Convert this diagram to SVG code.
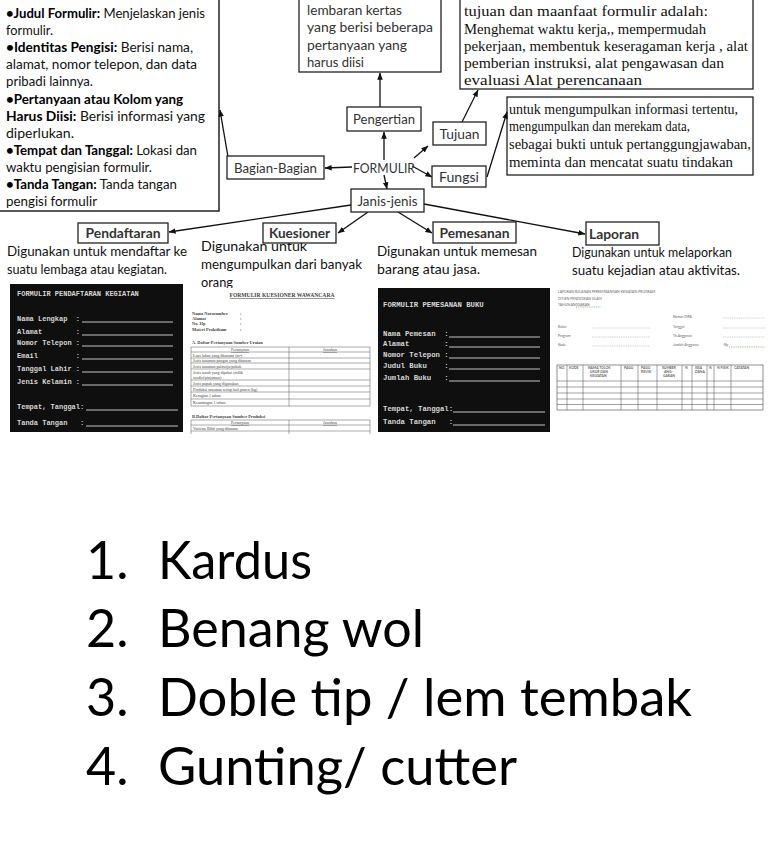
<svg xmlns="http://www.w3.org/2000/svg" width="768" height="866" viewBox="0 0 768 866">
<style>
.box{fill:#fff;stroke:#222;stroke-width:1.3}
.sans{font-family:Lato,'Open Sans',sans-serif}
.lbl{font-family:Lato,'Open Sans',sans-serif;font-size:13.5px;fill:#333}
.blk{font-family:Lato,'Open Sans',sans-serif;font-size:13.5px;fill:#111}
.b{font-weight:bold;fill:#000}
.ser{font-family:'Liberation Serif',serif;font-size:14px;fill:#111}
.c{stroke:#111;stroke-width:1.3;fill:none;marker-end:url(#ah)}
.mono{font-family:'Liberation Mono',monospace;font-weight:bold;fill:#d6d6d6;white-space:pre}
.ul{stroke:#d8d8d8;stroke-width:0.9}
.ks{font-family:'Liberation Serif',serif;fill:#444}
.tl{stroke:#555;stroke-width:0.5;fill:none}
.lp{font-family:Lato,'Open Sans',sans-serif;font-size:3.4px;fill:#666}
.dot{stroke:#999;stroke-width:0.5;stroke-dasharray:1,0.8}
.gdot{stroke:#3a9a3a;stroke-width:0.6;stroke-dasharray:1,0.8}
.list{font-family:Lato,'Open Sans',sans-serif;font-size:52px;fill:#000}
</style>
<defs>
<marker id="ah" viewBox="0 0 10 10" refX="9.5" refY="5" markerWidth="7" markerHeight="7" markerUnits="userSpaceOnUse" orient="auto">
<path d="M0,1 L10,5 L0,9 z" fill="#111"/>
</marker>
<clipPath id="kq"><rect x="190" y="288" width="188" height="146"/></clipPath>
</defs>
<rect width="768" height="866" fill="#fff"/>

<g id="bagian-text">
<rect x="-1" y="-2" width="220" height="213" fill="#fff" stroke="#222" stroke-width="1.5"/>
<text class="blk" x="6" y="18" textLength="199" lengthAdjust="spacingAndGlyphs"><tspan class="b">•Judul Formulir:</tspan> Menjelaskan jenis</text>
<text class="blk" x="6" y="35" textLength="47" lengthAdjust="spacingAndGlyphs">formulir.</text>
<text class="blk" x="6" y="52" textLength="187" lengthAdjust="spacingAndGlyphs"><tspan class="b">•Identitas Pengisi:</tspan> Berisi nama,</text>
<text class="blk" x="6" y="69" textLength="191" lengthAdjust="spacingAndGlyphs">alamat, nomor telepon, dan data</text>
<text class="blk" x="6" y="86" textLength="87" lengthAdjust="spacingAndGlyphs">pribadi lainnya.</text>
<text class="blk" x="6" y="104" textLength="177" lengthAdjust="spacingAndGlyphs"><tspan class="b">•Pertanyaan atau Kolom yang</tspan></text>
<text class="blk" x="6" y="121" textLength="199" lengthAdjust="spacingAndGlyphs"><tspan class="b">Harus Diisi:</tspan> Berisi informasi yang</text>
<text class="blk" x="6" y="138" textLength="68" lengthAdjust="spacingAndGlyphs">diperlukan.</text>
<text class="blk" x="6" y="155" textLength="191" lengthAdjust="spacingAndGlyphs"><tspan class="b">•Tempat dan Tanggal:</tspan> Lokasi dan</text>
<text class="blk" x="6" y="172" textLength="146" lengthAdjust="spacingAndGlyphs">waktu pengisian formulir.</text>
<text class="blk" x="6" y="189" textLength="171" lengthAdjust="spacingAndGlyphs"><tspan class="b">•Tanda Tangan:</tspan> Tanda tangan</text>
<text class="blk" x="6" y="206" textLength="91" lengthAdjust="spacingAndGlyphs">pengisi formulir</text>
</g>

<g id="pengertian-text">
<rect class="box" x="299" y="-2" width="142" height="74"/>
<text class="lbl" x="307" y="15" textLength="95" lengthAdjust="spacingAndGlyphs">lembaran kertas</text>
<text class="lbl" x="307" y="32" textLength="126" lengthAdjust="spacingAndGlyphs">yang berisi beberapa</text>
<text class="lbl" x="307" y="50" textLength="100" lengthAdjust="spacingAndGlyphs">pertanyaan yang</text>
<text class="lbl" x="307" y="67" textLength="57" lengthAdjust="spacingAndGlyphs">harus diisi</text>
</g>

<g id="tujuan-text">
<rect class="box" x="460" y="-2" width="293" height="91"/>
<text class="ser" x="464" y="16" textLength="244" lengthAdjust="spacingAndGlyphs">tujuan dan maanfaat formulir adalah:</text>
<text class="ser" x="464" y="34" textLength="242" lengthAdjust="spacingAndGlyphs">Menghemat waktu kerja,, mempermudah</text>
<text class="ser" x="464" y="51" textLength="284" lengthAdjust="spacingAndGlyphs">pekerjaan, membentuk keseragaman kerja , alat</text>
<text class="ser" x="464" y="68" textLength="260" lengthAdjust="spacingAndGlyphs">pemberian instruksi, alat pengawasan dan</text>
<text class="ser" x="464" y="85" textLength="178" lengthAdjust="spacingAndGlyphs">evaluasi Alat perencanaan</text>
</g>

<g id="fungsi-text">
<rect class="box" x="507" y="97" width="246" height="78"/>
<text class="ser" x="509" y="114" textLength="229" lengthAdjust="spacingAndGlyphs">untuk mengumpulkan informasi tertentu,</text>
<text class="ser" x="509" y="131" textLength="181" lengthAdjust="spacingAndGlyphs">mengumpulkan dan merekam data,</text>
<text class="ser" x="509" y="149" textLength="242" lengthAdjust="spacingAndGlyphs">sebagai bukti untuk pertanggungjawaban,</text>
<text class="ser" x="509" y="167" textLength="224" lengthAdjust="spacingAndGlyphs">meminta dan mencatat suatu tindakan</text>
</g>

<g id="connectors">
<line class="c" x1="384" y1="160" x2="384" y2="132"/>
<line class="c" x1="380" y1="107" x2="380" y2="73"/>
<line class="c" x1="352" y1="167" x2="325" y2="168"/>
<line class="c" x1="228" y1="157" x2="220" y2="110"/>
<line class="c" x1="414" y1="158" x2="428" y2="146"/>
<line class="c" x1="462" y1="122" x2="478" y2="90"/>
<line class="c" x1="412" y1="166" x2="432" y2="177"/>
<line class="c" x1="487" y1="177" x2="507" y2="112"/>
<line class="c" x1="384" y1="175" x2="387" y2="189"/>
<line class="c" x1="351" y1="205" x2="169" y2="232"/>
<line class="c" x1="368" y1="212" x2="338" y2="233"/>
<line class="c" x1="398" y1="212" x2="432" y2="233"/>
<line class="c" x1="424" y1="204" x2="585" y2="234"/>
</g>

<g id="formulir">
<text class="lbl" x="384" y="173" text-anchor="middle" textLength="62" lengthAdjust="spacingAndGlyphs">FORMULIR</text>
</g>
<g id="pengertian">
<rect class="box" x="347" y="107" width="74" height="24"/>
<text class="lbl" x="384" y="124" text-anchor="middle" textLength="62" lengthAdjust="spacingAndGlyphs">Pengertian</text>
</g>
<g id="tujuan">
<rect class="box" x="433" y="122" width="53" height="23"/>
<text class="lbl" x="459.5" y="139" text-anchor="middle" textLength="40" lengthAdjust="spacingAndGlyphs">Tujuan</text>
</g>
<g id="fungsi">
<rect class="box" x="432" y="166" width="54" height="21"/>
<text class="lbl" x="459" y="182" text-anchor="middle" textLength="40" lengthAdjust="spacingAndGlyphs">Fungsi</text>
</g>
<g id="bagian-bagian">
<rect class="box" x="227" y="156" width="97" height="23"/>
<text class="lbl" x="275.5" y="173" text-anchor="middle" textLength="83" lengthAdjust="spacingAndGlyphs">Bagian-Bagian</text>
</g>
<g id="janis-jenis">
<rect class="box" x="351" y="189" width="73" height="23"/>
<text class="lbl" x="387.5" y="206" text-anchor="middle" textLength="60" lengthAdjust="spacingAndGlyphs">Janis-jenis</text>
</g>

<g id="desc-texts">
<text class="blk" x="7" y="256" textLength="180" lengthAdjust="spacingAndGlyphs">Digunakan untuk mendaftar ke</text>
<text class="blk" x="7" y="274" textLength="160" lengthAdjust="spacingAndGlyphs">suatu lembaga atau kegiatan.</text>
<text class="blk" x="201" y="251" textLength="106" lengthAdjust="spacingAndGlyphs">Digunakan untuk</text>
<text class="blk" x="201" y="269" textLength="161" lengthAdjust="spacingAndGlyphs">mengumpulkan dari banyak</text>
<text class="blk" x="201" y="287" textLength="32" lengthAdjust="spacingAndGlyphs">orang</text>
<text class="blk" x="377" y="256" textLength="160" lengthAdjust="spacingAndGlyphs">Digunakan untuk memesan</text>
<text class="blk" x="377" y="274" textLength="103" lengthAdjust="spacingAndGlyphs">barang atau jasa.</text>
<text class="blk" x="572" y="257" textLength="160" lengthAdjust="spacingAndGlyphs">Digunakan untuk melaporkan</text>
<text class="blk" x="572" y="275" textLength="168" lengthAdjust="spacingAndGlyphs">suatu kejadian atau aktivitas.</text>
</g>

<g id="pendaftaran">
<rect class="box" x="78" y="223" width="90" height="20"/>
<text class="lbl" x="123" y="238" text-anchor="middle" font-weight="bold" fill="#444" textLength="75" lengthAdjust="spacingAndGlyphs">Pendaftaran</text>
</g>
<g id="kuesioner">
<rect class="box" x="263" y="223" width="73" height="20"/>
<text class="lbl" x="299.5" y="238" text-anchor="middle" font-weight="bold" fill="#444" textLength="61" lengthAdjust="spacingAndGlyphs">Kuesioner</text>
</g>
<g id="pemesanan">
<rect class="box" x="433" y="222" width="83" height="21"/>
<text class="lbl" x="474.5" y="238" text-anchor="middle" font-weight="bold" fill="#444" textLength="70" lengthAdjust="spacingAndGlyphs">Pemesanan</text>
</g>
<g id="laporan">
<rect class="box" x="586" y="222" width="73" height="23"/>
<text class="lbl" x="589" y="239" font-weight="bold" fill="#000" textLength="50" lengthAdjust="spacingAndGlyphs">Laporan</text>
</g>

<g id="form-pendaftaran">
<rect x="10" y="284" width="173" height="148" fill="#0f0f0f"/>
<g class="mono" font-size="7">
<text x="17" y="296" xml:space="preserve">FORMULIR PENDAFTARAN KEGIATAN</text>
<text x="17" y="321" xml:space="preserve">Nama Lengkap  :</text>
<text x="17" y="334" xml:space="preserve">Alamat        :</text>
<text x="17" y="345" xml:space="preserve">Nomor Telepon :</text>
<text x="17" y="358" xml:space="preserve">Email         :</text>
<text x="17" y="371" xml:space="preserve">Tanggal Lahir :</text>
<text x="17" y="384" xml:space="preserve">Jenis Kelamin :</text>
<text x="17" y="409" xml:space="preserve">Tempat, Tanggal:</text>
<text x="17" y="425" xml:space="preserve">Tanda Tangan   :</text>
</g>
<g class="ul">
<line x1="82" y1="322" x2="173" y2="322"/>
<line x1="82" y1="335" x2="173" y2="335"/>
<line x1="82" y1="346" x2="173" y2="346"/>
<line x1="82" y1="359" x2="173" y2="359"/>
<line x1="82" y1="372" x2="173" y2="372"/>
<line x1="82" y1="385" x2="173" y2="385"/>
<line x1="86" y1="410" x2="178" y2="410"/>
<line x1="86" y1="426" x2="178" y2="426"/>
</g>
</g>

<g id="form-kuesioner" clip-path="url(#kq)">
<rect x="190" y="288" width="188" height="146" fill="#fff"/>
<text class="ks" x="282" y="297" font-size="5.6" font-weight="bold" text-anchor="middle" text-decoration="underline">FORMULIR KUESIONER WAWANCARA</text>
<g class="ks" font-size="4.4" font-weight="bold">
<text x="192" y="315">Nama Narasumber</text><text x="240" y="315">:</text>
<text x="192" y="320">Alamat</text><text x="240" y="320">:</text>
<text x="192" y="325">No. Hp</text><text x="240" y="325">:</text>
<text x="192" y="330.5">Materi Praktikum</text><text x="240" y="330.5">:</text>
<text x="192" y="344">A.  Daftar Pertanyaan Sumber Uraian</text>
<text x="192" y="418">B.Daftar Pertanyaan Sumber Produksi</text>
</g>
<rect class="tl" x="191" y="347" width="179" height="59"/>
<path class="tl" d="M289,347 V406 M191,352 H370 M191,358 H370 M191,363 H370 M191,369 H370 M191,380 H370 M191,386 H370 M191,392 H370 M191,399 H370"/>
<g class="ks" font-size="4">
<text x="240" y="351" text-anchor="middle" text-decoration="underline">Pertanyaan</text>
<text x="330" y="351" text-anchor="middle" text-decoration="underline">Jawaban</text>
<text x="193" y="356.5">Luas lahan yang ditanami (m²)</text>
<text x="193" y="362">Jenis tanaman pangan yang ditanam</text>
<text x="193" y="367.5">Jenis tanaman palawija/pokok</text>
<text x="193" y="373.5">Jenis tanah yang dipakai (milik</text>
<text x="193" y="378.5">sendiri/pinjaman)</text>
<text x="193" y="384.5">Jenis pupuk yang digunakan</text>
<text x="193" y="390.5">Produksi tanaman setiap kali panen (kg)</text>
<text x="193" y="397">Kerugian 1 tahun</text>
<text x="293" y="397">.</text>
<text x="193" y="404">Keuntungan 1 tahun</text>
</g>
<rect class="tl" x="191" y="420" width="179" height="20"/>
<path class="tl" d="M289,420 V440 M191,425 H370 M191,431 H370"/>
<g class="ks" font-size="4">
<text x="240" y="424" text-anchor="middle" text-decoration="underline">Pertanyaan</text>
<text x="330" y="424" text-anchor="middle" text-decoration="underline">Jawaban</text>
<text x="193" y="430">Varietas Bibit yang ditanam</text>
</g>
</g>

<g id="form-pemesanan">
<rect x="378" y="288" width="172" height="144" fill="#0f0f0f"/>
<g class="mono" font-size="7.3">
<text x="383" y="307" xml:space="preserve">FORMULIR PEMESANAN BUKU</text>
<text x="383" y="335.5" xml:space="preserve">Nama Pemesan  :</text>
<text x="383" y="345.5" xml:space="preserve">Alamat        :</text>
<text x="383" y="356.5" xml:space="preserve">Nomor Telepon :</text>
<text x="383" y="367.5" xml:space="preserve">Judul Buku    :</text>
<text x="383" y="379.5" xml:space="preserve">Jumlah Buku   :</text>
<text x="383" y="410.5" xml:space="preserve">Tempat, Tanggal:</text>
<text x="383" y="423.5" xml:space="preserve">Tanda Tangan   :</text>
</g>
<g class="ul">
<line x1="449" y1="337" x2="540" y2="337"/>
<line x1="449" y1="347" x2="540" y2="347"/>
<line x1="449" y1="358" x2="540" y2="358"/>
<line x1="449" y1="369" x2="540" y2="369"/>
<line x1="449" y1="381" x2="540" y2="381"/>
<line x1="453" y1="412" x2="545" y2="412"/>
<line x1="453" y1="425" x2="545" y2="425"/>
</g>
</g>

<g id="form-laporan">
<rect x="551" y="285" width="217" height="128" fill="#fff"/>
<text class="lp" x="558" y="293">LAPORAN BULANAN PERKEMBANGAN KEGIATAN/PROGRAM</text>
<text class="lp" x="558" y="299.5">DITJEN PENDIDIKAN ISLAM</text>
<text class="lp" x="558" y="306">TAHUN ANGGARAN</text>
<line class="gdot" x1="576" y1="307" x2="601" y2="307"/>
<text class="lp" x="673" y="318">Nomor DIPA</text>
<text class="lp" x="558" y="328">Bulan</text>
<text class="lp" x="673" y="328">Tanggal</text>
<text class="lp" x="558" y="337">Program</text>
<text class="lp" x="673" y="337">Th.Anggaran</text>
<text class="lp" x="558" y="346">Kode</text>
<text class="lp" x="673" y="346">Jumlah Anggaran</text>
<text class="lp" x="723" y="346">-Rp</text>
<line class="gdot" x1="729" y1="347" x2="765" y2="347"/>
<path class="dot" d="M723,318 H765 M592,328 H650 M723,328 H765 M592,337 H650 M723,337 H765 M592,346 H650"/>
<rect x="557" y="365" width="206" height="45" fill="none" stroke="#444" stroke-width="0.6"/>
<path d="M567,365V410 M583,365V410 M621,365V410 M638,365V410 M657,365V410 M682,365V410 M692,365V410 M707,365V410 M714,365V410 M731,365V410 M557,381H763 M557,387H763 M557,393H763 M557,399H763 M557,404.5H763" stroke="#444" stroke-width="0.5" fill="none"/>
<g class="lp" font-size="3" font-weight="bold" fill="#555">
<text x="559" y="369">NO.</text>
<text x="569" y="369">KODE</text>
<text x="588" y="369">NAMA TOLOK</text><text x="590" y="373">UKUR DAN</text><text x="590" y="377">KEGIATAN</text>
<text x="624" y="369">PAGU</text>
<text x="641" y="369">PAGU</text><text x="641" y="373">REVISI</text>
<text x="662" y="369">SUMBER</text><text x="664" y="373">ANG-</text><text x="663" y="377">GARAN</text>
<text x="685" y="369">%</text>
<text x="695" y="369">SISA</text><text x="695" y="373">DANA</text>
<text x="709" y="369">%</text>
<text x="717" y="369">% FISIK</text>
<text x="734" y="369">CATATAN</text>
</g>
</g>

<g id="bahan-list">
<text class="list" x="86" y="579">1.</text>
<text class="list" x="158" y="579" textLength="154" lengthAdjust="spacingAndGlyphs">Kardus</text>
<text class="list" x="86" y="647">2.</text>
<text class="list" x="158" y="647" textLength="266" lengthAdjust="spacingAndGlyphs">Benang wol</text>
<text class="list" x="86" y="716">3.</text>
<text class="list" x="158" y="716" textLength="534" lengthAdjust="spacingAndGlyphs">Doble tip / lem tembak</text>
<text class="list" x="86" y="785">4.</text>
<text class="list" x="158" y="785" textLength="359" lengthAdjust="spacingAndGlyphs">Gunting/ cutter</text>
</g>
</svg>
